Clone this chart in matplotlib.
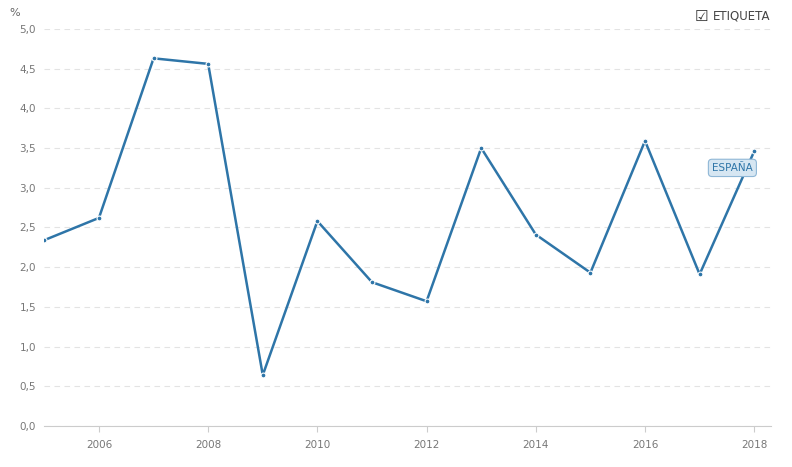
import matplotlib.pyplot as plt
from matplotlib.ticker import FuncFormatter

years = list(range(2005, 2019))
values = [2.34, 2.62, 4.63, 4.56, 0.64, 2.58, 1.81, 1.57, 3.50, 2.41, 1.93, 3.59, 1.91, 3.46]
series_label = "ESPAÑA"

fig = plt.figure(figsize=(7.92, 4.67), dpi=100)
ax = fig.add_axes([0.056, 0.088, 0.917, 0.85])

line_color = "#2e75a8"
ax.plot(years, values, color=line_color, lw=1.8, marker="o", ms=3.5,
        mfc=line_color, mec="white", mew=0.8)

ax.set_xlim(2005, 2018.3)
ax.set_ylim(0, 5)
ax.set_xticks(range(2006, 2019, 2))
ax.set_yticks([i * 0.5 for i in range(11)])
ax.yaxis.set_major_formatter(FuncFormatter(lambda v, p: f"{v:.1f}".replace(".", ",")))
ax.tick_params(labelsize=7.5, colors="#777777", length=0, pad=6)
ax.tick_params(axis="x", length=4, color="#cccccc")
ax.grid(axis="y", color="#e3e3e3", ls=(0, (5, 4)), lw=0.8)
for s in ["top", "right", "left"]:
    ax.spines[s].set_visible(False)
ax.spines["bottom"].set_color("#cccccc")

fig.text(0.012, 0.965, "%", fontsize=8, color="#666666")
fig.text(0.877, 0.955, "☑", fontsize=11, color="#333333")
fig.text(0.900, 0.958, "ETIQUETA", fontsize=8.5, color="#444444")

ax.annotate(series_label, xy=(years[-1], values[-1]), xytext=(2017.6, 3.25),
            fontsize=7.5, color="#2e75a8", ha="center", va="center",
            bbox=dict(boxstyle="round,pad=0.35", fc="#d6e6f2", ec="#8fb7d6", lw=0.8))

fig.savefig("out.png")
